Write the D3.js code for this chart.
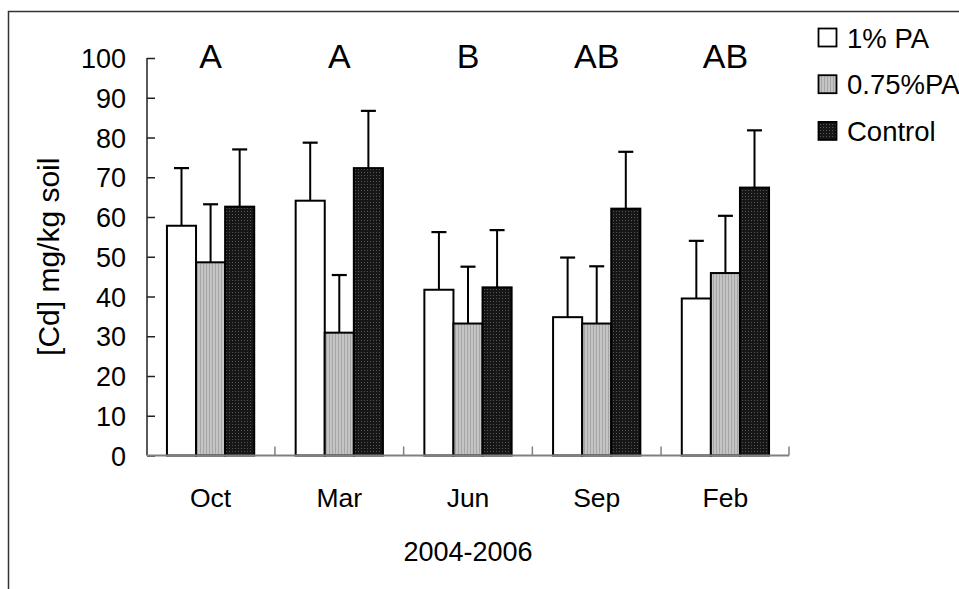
<!DOCTYPE html>
<html>
<head>
<meta charset="utf-8">
<script src="https://cdn.jsdelivr.net/npm/d3@7"></script>
<style>
  html, body { margin: 0; padding: 0; background: #fff; }
  svg { display: block; font-family: "Liberation Sans", Arial, sans-serif; }
</style>
</head>
<body>
<svg id="chart" width="959" height="589"></svg>
<script>
// Sampling months (2004-2006)
const categories = ["Oct", "Mar", "Jun", "Sep", "Feb"];
const seriesNames = ["1% PA", "0.75%PA", "Control"];

// Mean Cd concentration (mg/kg soil)
const pa1 = [57.8, 64.1, 41.7, 34.8, 39.5];
const pa075 = [48.6, 30.9, 33.2, 33.2, 45.9];
const control = [62.6, 72.3, 42.3, 62.1, 67.4];

// Upper error (standard error)
const pa1Err = [14.5, 14.6, 14.5, 15.0, 14.5];
const pa075Err = [14.6, 14.5, 14.3, 14.4, 14.4];
const controlErr = [14.4, 14.4, 14.4, 14.3, 14.4];

// Significance letters per month
const letters = ["A", "A", "B", "AB", "AB"];

const yTicks = [0, 10, 20, 30, 40, 50, 60, 70, 80, 90, 100];

const svg = d3.select("#chart");

// Fill patterns
const defs = svg.append("defs");
const pg = defs.append("pattern").attr("id", "pGray")
  .attr("patternUnits", "userSpaceOnUse").attr("width", 3).attr("height", 3);
pg.append("rect").attr("width", 3).attr("height", 3).attr("fill", "#c4c4c4");
pg.append("rect").attr("x", 2).attr("width", 1).attr("height", 3).attr("fill", "#a6a6a6");

const pb = defs.append("pattern").attr("id", "pBlack")
  .attr("patternUnits", "userSpaceOnUse").attr("width", 3).attr("height", 3);
pb.append("rect").attr("width", 3).attr("height", 3).attr("fill", "#161616");
pb.append("rect").attr("x", 1).attr("y", 1).attr("width", 1).attr("height", 1).attr("fill", "#555");

const fills = ["#ffffff", "url(#pGray)", "url(#pBlack)"];

// Outer chart-area frame
svg.append("rect")
  .attr("x", 8.5).attr("y", 11.5).attr("width", 1000).attr("height", 700)
  .attr("fill", "none").attr("stroke", "#333").attr("stroke-width", 1.5);

const x0 = 147, x1 = 789, yTop = 58, yBot = 455.5;

const x = d3.scaleBand().domain(categories).range([x0, x1])
  .paddingInner(0.322).paddingOuter(0.155);
const xs = d3.scaleBand().domain(seriesNames).range([0, x.bandwidth()]).padding(0);
const y = d3.scaleLinear().domain([0, 100]).range([yBot, yTop]);

const data = [];
categories.forEach((c, i) => {
  [pa1, pa075, control].forEach((arr, s) => {
    const err = [pa1Err, pa075Err, controlErr][s][i];
    data.push({ cat: c, s: seriesNames[s], si: s, v: arr[i], e: err });
  });
});

// Error bars (upper only)
const eb = svg.append("g");
data.forEach(d => {
  const cx = x(d.cat) + xs(d.s) + xs.bandwidth() / 2;
  eb.append("line").attr("x1", cx).attr("x2", cx)
    .attr("y1", y(d.v)).attr("y2", y(d.v + d.e))
    .attr("stroke", "#000").attr("stroke-width", 2);
  eb.append("line").attr("x1", cx - 7.5).attr("x2", cx + 7.5)
    .attr("y1", y(d.v + d.e)).attr("y2", y(d.v + d.e))
    .attr("stroke", "#000").attr("stroke-width", 2.2);
});

// Bars
svg.append("g").selectAll("rect").data(data).join("rect")
  .attr("x", d => x(d.cat) + xs(d.s))
  .attr("y", d => y(d.v))
  .attr("width", xs.bandwidth())
  .attr("height", d => y(0) - y(d.v))
  .attr("fill", d => fills[d.si])
  .attr("stroke", "#000").attr("stroke-width", 2);

// Y axis
const yAxis = svg.append("g").attr("transform", `translate(${x0},0)`)
  .call(d3.axisRight(y).tickValues(yTicks).tickSize(8).tickFormat(""));
yAxis.select(".domain").attr("stroke", "#222").attr("stroke-width", 1.5).attr("d", `M0,${yTop}V${yBot}`);
yAxis.selectAll(".tick line").attr("stroke", "#222").attr("stroke-width", 1.5);
svg.append("g").selectAll("text").data(yTicks).join("text")
  .attr("x", 126).attr("y", d => y(d) + 10)
  .attr("text-anchor", "end").attr("font-size", 27).attr("fill", "#000")
  .text(d => d);

// X axis baseline with category boundary ticks
const bounds = categories.map(c => x(c) - x.step() * x.paddingInner() / 2);
bounds[0] = x0; bounds.push(x1);
svg.append("line").attr("x1", x0).attr("x2", x1).attr("y1", yBot).attr("y2", yBot)
  .attr("stroke", "#808080").attr("stroke-width", 1.8);
svg.append("g").selectAll("line").data(bounds.slice(1)).join("line")
  .attr("x1", d => d).attr("x2", d => d).attr("y1", yBot).attr("y2", yBot - 9)
  .attr("stroke", "#808080").attr("stroke-width", 1.5);

// Category labels
svg.append("g").selectAll("text").data(categories).join("text")
  .attr("x", d => x(d) + x.bandwidth() / 2).attr("y", 507)
  .attr("text-anchor", "middle").attr("font-size", 26.5).attr("fill", "#000")
  .text(d => d);

// Significance letters
svg.append("g").selectAll("text").data(categories).join("text")
  .attr("x", d => x(d) + x.bandwidth() / 2).attr("y", 68)
  .attr("text-anchor", "middle").attr("font-size", 34).attr("fill", "#000")
  .text((d, i) => letters[i]);

// Axis titles
svg.append("text").attr("x", (x0 + x1) / 2).attr("y", 561)
  .attr("text-anchor", "middle").attr("font-size", 27).text("2004-2006");
svg.append("text")
  .attr("transform", `translate(59,${(yTop + yBot) / 2}) rotate(-90)`)
  .attr("text-anchor", "middle").attr("font-size", 30).text("[Cd] mg/kg soil");

// Legend
const lg = svg.append("g");
seriesNames.forEach((n, i) => {
  const ly = 28.5 + i * 46.7;
  lg.append("rect").attr("x", 818.5).attr("y", ly).attr("width", 18).attr("height", 18)
    .attr("fill", fills[i]).attr("stroke", "#000").attr("stroke-width", 1.8);
  lg.append("text").attr("x", 847).attr("y", ly + 19)
    .attr("font-size", 27.5).attr("fill", "#000").text(n);
});
</script>
</body>
</html>
